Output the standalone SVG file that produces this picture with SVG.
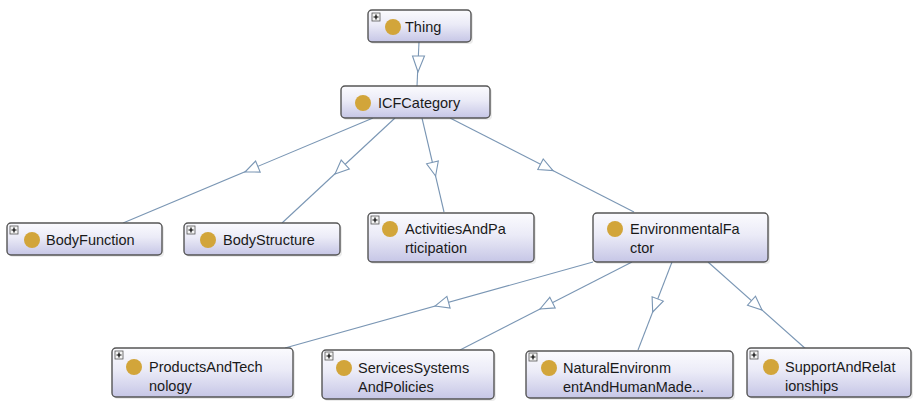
<svg xmlns="http://www.w3.org/2000/svg" width="915" height="401" viewBox="0 0 915 401">
<defs>
<linearGradient id="g" x1="0" y1="0" x2="0" y2="1">
<stop offset="0" stop-color="#fbfbfe"/>
<stop offset="0.45" stop-color="#ebebf7"/>
<stop offset="1" stop-color="#c6c6e6"/>
</linearGradient>
<g id="plus">
<rect x="0" y="0" width="8" height="8" fill="#f4f4f4" stroke="#555" stroke-width="0.8"/>
<path d="M1.5 4H6.5M4 1.5V6.5" stroke="#000" stroke-width="1.2"/>
</g>
</defs>
<style>
.box{fill:url(#g);stroke:#555;stroke-width:1.4}
.sh{fill:#000;opacity:0.08}
.orb{fill:#d2a53a}
.t{font-family:"Liberation Sans",Arial,sans-serif;font-size:14.5px;fill:#1a1a1a}
.e{stroke:#7a96b4;stroke-width:1.1;fill:none}
.a{fill:#fff;stroke:#7a96b4;stroke-width:1.1}
</style>
<rect width="915" height="401" fill="#fff"/>
<g id="connectors">
<line class="e" x1="419" y1="42" x2="417" y2="86" stroke="#4a6ea8" stroke-width="2.6"/>
<polygon class="a" points="418,72 412.5,56 424.5,56" stroke="#8aa2c0"/>
<line class="e" x1="373" y1="118" x2="123" y2="223"/>
<polygon class="a" points="245,172 260.2,172.1 255.6,161.1"/>
<line class="e" x1="395" y1="118" x2="282" y2="223"/>
<polygon class="a" points="335,174 349.3,168.9 341.2,160.1"/>
<line class="e" x1="422" y1="118" x2="444" y2="212"/>
<polygon class="a" points="435.6,176 438.3,161 426.6,163.8"/>
<line class="e" x1="450" y1="118" x2="634" y2="212"/>
<polygon class="a" points="553,170.6 543.2,158.9 537.8,169.6"/>
<line class="e" x1="593" y1="262" x2="285" y2="348"/>
<polygon class="a" points="435,306 450.1,308 446.9,296.4"/>
<line class="e" x1="632" y1="262" x2="460" y2="350"/>
<polygon class="a" points="540,309 555.2,307.9 549.8,297.3"/>
<line class="e" x1="672" y1="262" x2="638" y2="350"/>
<polygon class="a" points="652.7,312 663.3,301.1 652.1,296.7"/>
<line class="e" x1="708" y1="262" x2="807" y2="350"/>
<polygon class="a" points="762,310 755.5,296.2 747.5,305.2"/>
</g>
<g id="node-thing">
<rect class="sh" x="370" y="12" width="103" height="32" rx="4"/>
<rect class="box" x="368" y="10" width="103" height="32" rx="4" stroke="#3c479e" stroke-width="2.4"/>
<use href="#plus" x="372" y="13"/>
<circle class="orb" cx="393" cy="27" r="8"/>
<text class="t" x="405" y="32">Thing</text>
</g>
<g id="node-icfcategory">
<rect class="sh" x="343" y="88" width="149" height="32" rx="4"/>
<rect class="box" x="341" y="86" width="149" height="32" rx="4" stroke="#8cc66a" stroke-width="1.6"/>
<circle class="orb" cx="363" cy="103" r="8"/>
<text class="t" x="378" y="108">ICFCategory</text>
</g>
<g id="node-bodyfunction">
<rect class="sh" x="9" y="225" width="155" height="32" rx="4"/>
<rect class="box" x="7" y="223" width="155" height="32" rx="4"/>
<use href="#plus" x="10" y="226"/>
<circle class="orb" cx="32" cy="240" r="8"/>
<text class="t" x="46" y="245">BodyFunction</text>
</g>
<g id="node-bodystructure">
<rect class="sh" x="186" y="225" width="156" height="32" rx="4"/>
<rect class="box" x="184" y="223" width="156" height="32" rx="4"/>
<use href="#plus" x="187" y="226"/>
<circle class="orb" cx="208" cy="240" r="8"/>
<text class="t" x="223" y="245">BodyStructure</text>
</g>
<g id="node-activities">
<rect class="sh" x="370" y="215" width="166" height="49" rx="4"/>
<rect class="box" x="368" y="213" width="166" height="49" rx="4"/>
<use href="#plus" x="371" y="216"/>
<circle class="orb" cx="390" cy="229" r="8"/>
<text class="t" x="405" y="234">ActivitiesAndPa</text>
<text class="t" x="405" y="253">rticipation</text>
</g>
<g id="node-environmental">
<rect class="sh" x="595" y="215" width="175" height="49" rx="4"/>
<rect class="box" x="593" y="213" width="175" height="49" rx="4"/>
<circle class="orb" cx="615" cy="229" r="8"/>
<text class="t" x="630" y="234">EnvironmentalFa</text>
<text class="t" x="630" y="253">ctor</text>
</g>
<g id="node-products">
<rect class="sh" x="114" y="350" width="181" height="49" rx="4"/>
<rect class="box" x="112" y="348" width="181" height="49" rx="4"/>
<use href="#plus" x="115" y="351"/>
<circle class="orb" cx="134" cy="367" r="8"/>
<text class="t" x="149" y="372">ProductsAndTech</text>
<text class="t" x="149" y="391">nology</text>
</g>
<g id="node-services">
<rect class="sh" x="324" y="352" width="172" height="49" rx="4"/>
<rect class="box" x="322" y="350" width="172" height="49" rx="4"/>
<use href="#plus" x="325" y="352"/>
<circle class="orb" cx="344" cy="368" r="8"/>
<text class="t" x="358" y="373">ServicesSystems</text>
<text class="t" x="358" y="392">AndPolicies</text>
</g>
<g id="node-natural">
<rect class="sh" x="528" y="353" width="207" height="47" rx="4"/>
<rect class="box" x="526" y="351" width="207" height="47" rx="4"/>
<use href="#plus" x="529" y="353"/>
<circle class="orb" cx="549" cy="368" r="8"/>
<text class="t" x="563" y="373">NaturalEnvironm</text>
<text class="t" x="563" y="392">entAndHumanMade...</text>
</g>
<g id="node-support">
<rect class="sh" x="749" y="350" width="164" height="49" rx="4"/>
<rect class="box" x="747" y="348" width="164" height="49" rx="4"/>
<use href="#plus" x="750" y="351"/>
<circle class="orb" cx="771" cy="367" r="8"/>
<text class="t" x="785" y="372">SupportAndRelat</text>
<text class="t" x="785" y="391">ionships</text>
</g>
</svg>
